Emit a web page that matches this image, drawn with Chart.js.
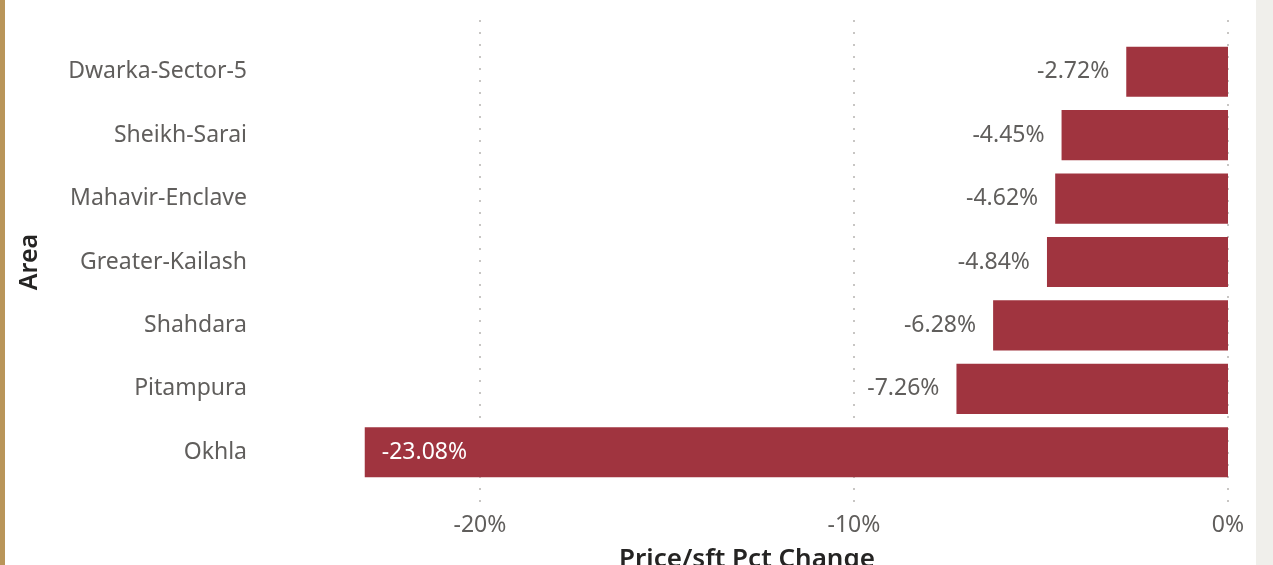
<!DOCTYPE html>
<html>
<head>
<meta charset="utf-8">
<script src="https://cdn.jsdelivr.net/npm/chart.js@4"></script>
<style>
    html, body { margin: 0; padding: 0; background: #fff; overflow: hidden; }
    .frame { position: relative; width: 1273px; height: 565px; overflow: hidden; }
    .strip-left { position: absolute; left: 0; top: 0; width: 5px; height: 565px; background: #B99559; }
    .strip-right { position: absolute; left: 1256px; top: 0; width: 17px; height: 565px; background: #F0EFEB; }
    .chart-box { position: absolute; left: 5px; top: 0; width: 1251px; height: 575px; }
</style>
</head>
<body>
<div class="frame">
    <div class="strip-left"></div>
    <div class="chart-box"><canvas id="chart"></canvas></div>
    <div class="strip-right"></div>
</div>
<script>
// --- Data ---
const areas = ['Dwarka-Sector-5', 'Sheikh-Sarai', 'Mahavir-Enclave', 'Greater-Kailash', 'Shahdara', 'Pitampura', 'Okhla'];
const pctChange = [-2.72, -4.45, -4.62, -4.84, -6.28, -7.26, -23.08];
const xTicks = [-20, -10, 0];

const FONT = "'Noto Sans', 'Segoe UI', sans-serif";
const labelColor = '#605E5C';
const titleColor = '#252423';
const barColor = '#A0343F';

// dotted vertical gridlines, a bit taller than the plot area
const dottedGrid = {
    id: 'dottedGrid',
    beforeDatasetsDraw(chart) {
        const { ctx, chartArea, scales } = chart;
        ctx.save();
        ctx.strokeStyle = '#C8C6C4';
        ctx.lineWidth = 2;
        ctx.setLineDash([2, 10]);
        xTicks.forEach(v => {
            const x = Math.round(scales.x.getPixelForValue(v));
            ctx.beginPath();
            ctx.moveTo(x, chartArea.top - 20);
            ctx.lineTo(x, chartArea.bottom + 20);
            ctx.stroke();
        });
        ctx.restore();
    }
};

// value labels: outside the bar end, or inside if there is no room
const valueLabels = {
    id: 'valueLabels',
    afterDatasetsDraw(chart) {
        const { ctx, chartArea } = chart;
        const meta = chart.getDatasetMeta(0);
        ctx.save();
        ctx.font = '23px ' + FONT;
        ctx.textBaseline = 'middle';
        meta.data.forEach((bar, i) => {
            const text = pctChange[i].toFixed(2) + '%';
            const w = ctx.measureText(text).width;
            if (bar.x - 17 - w > chartArea.left) {
                ctx.fillStyle = labelColor;
                ctx.textAlign = 'right';
                ctx.fillText(text, bar.x - 17, bar.y);
            } else {
                ctx.fillStyle = '#FFFFFF';
                ctx.textAlign = 'left';
                ctx.fillText(text, bar.x + 17, bar.y);
            }
        });
        ctx.restore();
    }
};

new Chart(document.getElementById('chart'), {
    type: 'bar',
    data: {
        labels: areas,
        datasets: [{
            data: pctChange,
            backgroundColor: barColor,
            borderWidth: 0,
            categoryPercentage: 1,
            barPercentage: 0.79
        }]
    },
    options: {
        indexAxis: 'y',
        responsive: true,
        maintainAspectRatio: false,
        animation: false,
        layout: { padding: { top: 40, right: 28, left: 0, bottom: 0 } },
        plugins: {
            legend: { display: false },
            tooltip: { enabled: false }
        },
        scales: {
            x: {
                min: -25.72,
                max: 0,
                grid: { display: false, drawTicks: true, tickLength: 28 },
                border: { display: false },
                afterBuildTicks: scale => { scale.ticks = xTicks.map(v => ({ value: v })); },
                afterFit: scale => { scale.height = 91; },
                ticks: {
                    padding: 0,
                    color: labelColor,
                    font: { family: FONT, size: 23 },
                    callback: v => v + '%'
                },
                title: {
                    display: true,
                    text: 'Price/sft Pct Change',
                    color: titleColor,
                    font: { family: FONT, size: 26, weight: '600' },
                    padding: { top: 6, bottom: 0 }
                }
            },
            y: {
                grid: { display: false, drawTicks: false },
                border: { display: false },
                afterFit: scale => { scale.width = 261; },
                ticks: {
                    padding: 19,
                    color: labelColor,
                    font: { family: FONT, size: 23 }
                },
                title: {
                    display: true,
                    text: 'Area',
                    color: titleColor,
                    font: { family: FONT, size: 25, weight: '600' },
                    padding: { top: 10, bottom: 0 }
                }
            }
        }
    },
    plugins: [dottedGrid, valueLabels]
});
</script>
</body>
</html>
